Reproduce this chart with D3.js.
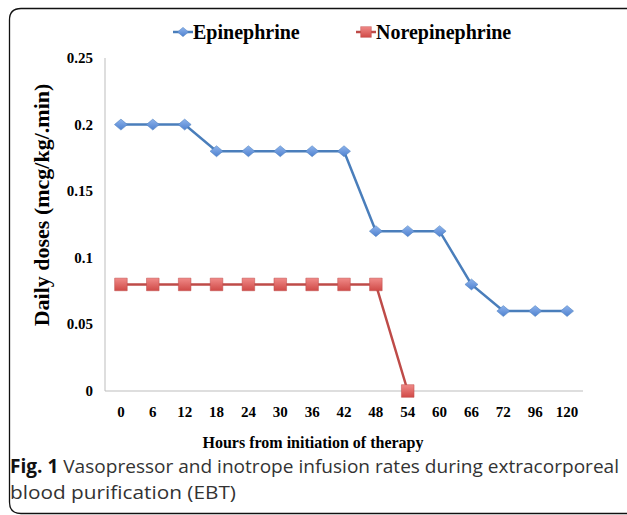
<!DOCTYPE html>
<html>
<head>
<meta charset="utf-8">
<script src="https://cdn.jsdelivr.net/npm/d3@7"></script>
<style>
  body { margin: 0; background: #fff; }
  svg { display: block; }
</style>
</head>
<body>
<div id="chart"></div>
<script>
// chart data
var hours = ["0", "6", "12", "18", "24", "30", "36", "42", "48", "54", "60", "66", "72", "96", "120"];
var epinephrine = [0.2, 0.2, 0.2, 0.18, 0.18, 0.18, 0.18, 0.18, 0.12, 0.12, 0.12, 0.08, 0.06, 0.06, 0.06];
var norepinephrine = [0.08, 0.08, 0.08, 0.08, 0.08, 0.08, 0.08, 0.08, 0.08, 0];
var yTicks = [0, 0.05, 0.1, 0.15, 0.2, 0.25];

var W = 627, H = 515;
var plotLeft = 105, plotRight = 583, plotTop = 58, plotBottom = 391;

var svg = d3.select("#chart")
    .append("svg")
    .attr("width", W)
    .attr("height", H);

var defs = svg.append("defs");
function grad(id, c1, c2) {
    var g = defs.append("linearGradient").attr("id", id)
        .attr("x1", 0).attr("y1", 0).attr("x2", 0).attr("y2", 1);
    g.append("stop").attr("offset", "0%").attr("stop-color", c1);
    g.append("stop").attr("offset", "100%").attr("stop-color", c2);
}
grad("gBlue", "#8db3ec", "#4f81cf");
grad("gRed", "#f08a88", "#d04a47");

// rounded frame (right and bottom edges fall outside the picture)
svg.append("path")
    .attr("d", "M627,8.5 L21,8.5 Q9.5,8.5 9.5,20 L9.5,502 Q9.5,513.5 21,513.5 L627,513.5")
    .attr("fill", "none")
    .attr("stroke", "#111")
    .attr("stroke-width", 1.3);

var x = d3.scaleBand()
    .domain(hours)
    .range([plotLeft, plotRight]);

var y = d3.scaleLinear()
    .domain([0, 0.25])
    .range([plotBottom, plotTop]);

var serif = "'Liberation Serif', 'Times New Roman', serif";

// axes
svg.append("line")
    .attr("x1", plotLeft).attr("x2", plotLeft)
    .attr("y1", plotTop).attr("y2", plotBottom)
    .attr("stroke", "#bdbdbd").attr("stroke-width", 1);
svg.append("line")
    .attr("x1", plotLeft).attr("x2", plotRight)
    .attr("y1", plotBottom).attr("y2", plotBottom)
    .attr("stroke", "#bdbdbd").attr("stroke-width", 1);

svg.selectAll(".ytick")
    .data(yTicks)
    .enter()
    .append("text")
    .attr("x", 93)
    .attr("y", function(d) { return y(d) + 5; })
    .attr("text-anchor", "end")
    .attr("font-family", serif)
    .attr("font-weight", "bold")
    .attr("font-size", "15px")
    .text(function(d) { return d; });

svg.selectAll(".xtick")
    .data(hours)
    .enter()
    .append("text")
    .attr("x", function(d) { return x(d) + x.bandwidth() / 2; })
    .attr("y", 417)
    .attr("text-anchor", "middle")
    .attr("font-family", serif)
    .attr("font-weight", "bold")
    .attr("font-size", "15px")
    .text(function(d) { return d; });

svg.append("text")
    .attr("x", 313)
    .attr("y", 448)
    .attr("text-anchor", "middle")
    .attr("font-family", serif)
    .attr("font-weight", "bold")
    .attr("font-size", "16px")
    .text("Hours from initiation of therapy");

svg.append("text")
    .attr("transform", "translate(49,205) rotate(-90)")
    .attr("text-anchor", "middle")
    .attr("font-family", serif)
    .attr("font-weight", "bold")
    .attr("font-size", "22px")
    .text("Daily doses (mcg/kg/.min)");

// series
var diamond = "M0,-5.5 L6.5,0 L0,5.5 L-6.5,0 Z";
var square = "M-6.3,-6.3 H6.3 V6.3 H-6.3 Z";
var series = [
    {name: "Epinephrine", values: epinephrine, line: "#4a7ebb", fill: "url(#gBlue)", mark: diamond, lx: 173},
    {name: "Norepinephrine", values: norepinephrine, line: "#be4b48", fill: "url(#gRed)", mark: square, lx: 356}
];

var line = d3.line()
    .x(function(d, i) { return x(hours[i]) + x.bandwidth() / 2; })
    .y(function(d) { return y(d); });

series.forEach(function(s) {
    svg.append("path")
        .datum(s.values)
        .attr("d", line)
        .attr("fill", "none")
        .attr("stroke", s.line)
        .attr("stroke-width", 2.5);

    svg.selectAll(null)
        .data(s.values)
        .enter()
        .append("path")
        .attr("transform", function(d, i) {
            return "translate(" + (x(hours[i]) + x.bandwidth() / 2) + "," + y(d) + ")";
        })
        .attr("d", s.mark)
        .attr("fill", s.fill)
        .attr("stroke", s.line)
        .attr("stroke-width", 0.5);

    // legend
    svg.append("line")
        .attr("x1", s.lx).attr("x2", s.lx + 20)
        .attr("y1", 32).attr("y2", 32)
        .attr("stroke", s.line).attr("stroke-width", 2.5);
    svg.append("path")
        .attr("transform", "translate(" + (s.lx + 10) + ",32) scale(0.85)")
        .attr("d", s.mark)
        .attr("fill", s.fill)
        .attr("stroke", s.line)
        .attr("stroke-width", 0.5);
    svg.append("text")
        .attr("x", s.lx + 20)
        .attr("y", 39)
        .attr("font-family", serif)
        .attr("font-weight", "bold")
        .attr("font-size", "20px")
        .text(s.name);
});

// caption
var cap = svg.append("text")
    .attr("x", 10)
    .attr("y", 473)
    .attr("font-family", "'Open Sans', sans-serif")
    .attr("font-size", "19px")
    .attr("fill", "#333")
    .attr("textLength", 609)
    .attr("lengthAdjust", "spacingAndGlyphs");
cap.append("tspan").attr("font-weight", "bold").attr("fill", "#111").text("Fig. 1");
cap.append("tspan").text(" Vasopressor and inotrope infusion rates during extracorporeal");

svg.append("text")
    .attr("x", 10)
    .attr("y", 499)
    .attr("font-family", "'Open Sans', sans-serif")
    .attr("font-size", "19px")
    .attr("fill", "#333")
    .attr("textLength", 226)
    .attr("lengthAdjust", "spacingAndGlyphs")
    .text("blood purification (EBT)");
</script>
</body>
</html>
